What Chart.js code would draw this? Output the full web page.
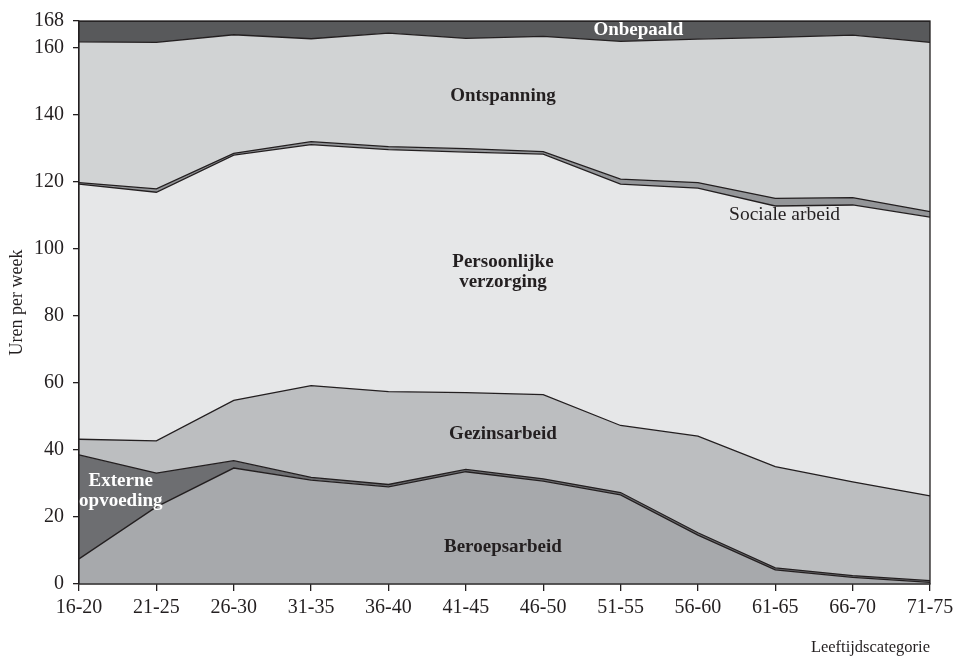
<!DOCTYPE html>
<html>
<head>
<meta charset="utf-8">
<script src="https://cdn.jsdelivr.net/npm/chart.js@4.4.1/dist/chart.umd.min.js"></script>
<style>
  html, body { margin: 0; padding: 0; background: #ffffff; }
  #wrap { width: 960px; height: 658px; position: relative; }
</style>
</head>
<body>
<div id="wrap"><canvas id="c" width="960" height="658"></canvas></div>
<script>
// ---- Data (hours per week, stacked to 168) ----
const categories = ['16-20','21-25','26-30','31-35','36-40','41-45','46-50','51-55','56-60','61-65','66-70','71-75'];
const beroepsarbeid        = [7.5, 23.0, 34.6, 31.0, 29.0, 33.5, 30.7, 26.6, 14.6, 4.2, 2.0, 0.5];
const externeOpvoeding     = [31.0, 10.1, 2.2, 0.8, 0.7, 0.7, 0.7, 0.7, 0.7, 0.6, 0.5, 0.5];
const gezinsarbeid         = [4.7, 9.6, 18.0, 27.4, 27.7, 22.9, 25.1, 20.0, 28.8, 30.2, 28.0, 25.3];
const persoonlijkeVerzorging = [76.1, 74.2, 73.2, 71.9, 72.2, 71.8, 71.8, 72.0, 74.0, 77.8, 82.6, 83.2];
const socialeArbeid        = [0.5, 1.0, 0.5, 0.9, 0.9, 1.0, 0.7, 1.5, 1.7, 2.3, 2.2, 1.6];
const ontspanning          = [42.0, 43.7, 35.4, 30.7, 33.9, 32.9, 34.4, 41.1, 42.8, 48.0, 48.5, 50.5];
const onbepaald            = [6.2, 6.4, 4.1, 5.3, 3.6, 5.2, 4.6, 6.1, 5.4, 4.9, 4.2, 6.4];
const yTickValues = [0, 20, 40, 60, 80, 100, 120, 140, 160, 168];

const seriesNames = ['Beroepsarbeid','Externe opvoeding','Gezinsarbeid','Persoonlijke verzorging','Sociale arbeid','Ontspanning','Onbepaald'];
const seriesValues = [beroepsarbeid, externeOpvoeding, gezinsarbeid, persoonlijkeVerzorging, socialeArbeid, ontspanning, onbepaald];
const seriesColors = ['#a7a9ac','#6d6e71','#bcbec0','#e6e7e8','#939598','#d1d3d4','#58595b'];

// in-area labels (text annotations): category index, value, colour, weight
const areaLabels = [
  { lines: ['Onbepaald'], x: 7.23, y: 165.2, color: '#ffffff', bold: true },
  { lines: ['Ontspanning'], x: 5.48, y: 145.6, color: '#231f20', bold: true },
  { lines: ['Sociale arbeid'], x: 9.12, y: 110.0, color: '#231f20', bold: false },
  { lines: ['Persoonlijke', 'verzorging'], x: 5.48, y: 93.1, color: '#231f20', bold: true },
  { lines: ['Gezinsarbeid'], x: 5.48, y: 44.6, color: '#231f20', bold: true },
  { lines: ['Beroepsarbeid'], x: 5.48, y: 11.0, color: '#231f20', bold: true },
  { lines: ['Externe', 'opvoeding'], x: 0.54, y: 27.6, color: '#ffffff', bold: true }
];

const FONT = '"Liberation Serif", "DejaVu Serif", serif';
const INK = '#231f20';

const datasets = seriesNames.map((name, i) => ({
  label: name,
  data: seriesValues[i],
  backgroundColor: seriesColors[i],
  borderColor: INK,
  borderWidth: 1.3,
  pointRadius: 0,
  tension: 0,
  fill: i === 0 ? 'origin' : '-1'
}));

const frame = {
  id: 'frame',
  afterDatasetsDraw(chart) {
    const { ctx, chartArea: a } = chart;
    ctx.save();
    ctx.strokeStyle = INK;
    ctx.lineWidth = 1.3;
    ctx.strokeRect(a.left, a.top, a.right - a.left, a.bottom - a.top);
    ctx.restore();
  }
};

const labelsPlugin = {
  id: 'areaLabels',
  afterDraw(chart) {
    const { ctx } = chart;
    const xs = chart.scales.x, ys = chart.scales.y;
    ctx.save();
    ctx.textAlign = 'center';
    ctx.textBaseline = 'middle';
    areaLabels.forEach(l => {
      ctx.font = (l.bold ? 'bold 19px ' : '19.5px ') + FONT;
      ctx.fillStyle = l.color;
      const cx = xs.getPixelForValue(l.x);
      const cy = ys.getPixelForValue(l.y);
      const lh = 20;
      const n = l.lines.length;
      l.lines.forEach((t, k) => {
        ctx.fillText(t, cx, cy + (k - (n - 1) / 2) * lh);
      });
    });
    ctx.restore();
  }
};

new Chart(document.getElementById('c'), {
  type: 'line',
  data: { labels: categories, datasets },
  plugins: [frame, labelsPlugin],
  options: {
    responsive: false,
    animation: false,
    events: [],
    layout: { padding: { top: 20, right: 30, left: 0, bottom: 0 } },
    plugins: {
      legend: { display: false },
      tooltip: { enabled: false },
      filler: { propagate: false }
    },
    scales: {
      x: {
        type: 'category',
        offset: false,
        grid: { display: true, drawOnChartArea: false, drawTicks: true, tickLength: 7, color: INK, lineWidth: 1.3 },
        border: { display: true, color: INK, width: 1.3 },
        ticks: { color: INK, font: { family: FONT, size: 20 }, padding: 5, maxRotation: 0, autoSkip: false },
        title: { display: true, text: 'Leeftijdscategorie', align: 'end', color: INK, font: { family: FONT, size: 16.5 }, padding: { top: 8, bottom: 0 } },
        afterFit(scale) { scale.height = 74; }
      },
      y: {
        stacked: true,
        min: 0,
        max: 168,
        afterBuildTicks(axis) { axis.ticks = yTickValues.map(v => ({ value: v })); },
        grid: { display: true, drawOnChartArea: false, drawTicks: true, tickLength: 6, color: INK, lineWidth: 1.3 },
        border: { display: true, color: INK, width: 1.3 },
        ticks: { color: INK, font: { family: FONT, size: 20 }, padding: 9 },
        title: { display: true, text: 'Uren per week', color: INK, font: { family: FONT, size: 18 }, padding: { top: 6, bottom: 4 } },
        afterFit(scale) { scale.width = 79; }
      }
    }
  }
});
</script>
</body>
</html>
